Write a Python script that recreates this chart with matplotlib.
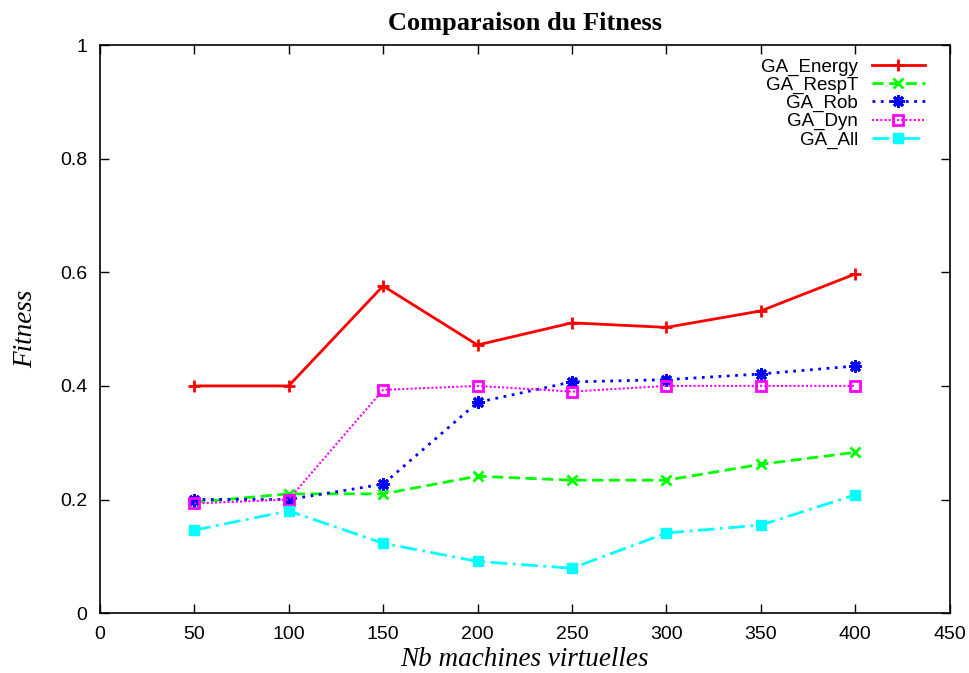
import numpy as np
import matplotlib.pyplot as plt
from matplotlib.ticker import FuncFormatter

# nombre de machines virtuelles
nb_vm = [50, 100, 150, 200, 250, 300, 350, 400]

ga_energy = [0.400, 0.400, 0.576, 0.472, 0.511, 0.503, 0.532, 0.597]
ga_respt = [0.195, 0.210, 0.210, 0.241, 0.234, 0.234, 0.262, 0.283]
ga_rob = [0.200, 0.200, 0.227, 0.371, 0.407, 0.411, 0.421, 0.435]
ga_dyn = [0.193, 0.200, 0.393, 0.400, 0.390, 0.400, 0.400, 0.400]
ga_all = [0.146, 0.180, 0.123, 0.091, 0.079, 0.141, 0.155, 0.208]

fig = plt.figure(figsize=(9.69, 6.73), dpi=100)
ax = fig.add_axes([0.103, 0.089, 0.877, 0.844])

ax.plot(nb_vm, ga_energy, color='#ff0000', lw=2, ls='-', marker='+', ms=8, mew=2, label='GA_Energy')
ax.plot(nb_vm, ga_respt, color='#00ff00', lw=2, ls=(0, (4, 2)), marker='x', ms=7, mew=2, label='GA_RespT')
ax.plot(nb_vm, ga_rob, color='#0000ff', lw=2, ls=(0, (1, 2)), marker=(8, 2, 0), ms=9, mew=2, label='GA_Rob')
ax.plot(nb_vm, ga_dyn, color='#ff00ff', lw=1.5, ls=(0, (1, 1)), marker='s', ms=7.5, mew=2,
        mfc='none', label='GA_Dyn')
ax.plot(nb_vm, ga_all, color='#00ffff', lw=2, ls=(0, (6, 2, 1, 2)), marker='s', ms=7, label='GA_All')

ax.set_xlim(0, 450)
ax.set_ylim(0, 1)
ax.set_xticks(np.arange(0, 451, 50))
ax.set_yticks(np.arange(0, 1.01, 0.2))
ax.yaxis.set_major_formatter(FuncFormatter(lambda v, p: '%g' % round(v, 1)))
ax.tick_params(direction='in', top=True, right=True, length=6.5, width=1, labelsize=14, pad=9)
for lab in ax.get_xticklabels() + ax.get_yticklabels():
    lab.set_family('Liberation Sans')
for s in ax.spines.values():
    s.set_linewidth(1.2)

ax.set_title('Comparaison du Fitness', family='Liberation Serif', fontweight='bold', fontsize=19, pad=11)
ax.set_xlabel('Nb machines virtuelles', family='Liberation Serif', style='italic', fontsize=19.5, labelpad=3)
ax.set_ylabel('Fitness', family='Liberation Serif', style='italic', fontsize=19.5, labelpad=16)

ax.legend(loc='upper right', bbox_to_anchor=(0.986, 1.0), frameon=False, markerfirst=False,
          handlelength=2.8, handletextpad=0.75, prop={'family': 'Liberation Sans', 'size': 13.5},
          labelspacing=0.05, borderaxespad=0.3)

fig.savefig('out.png', dpi=100)
